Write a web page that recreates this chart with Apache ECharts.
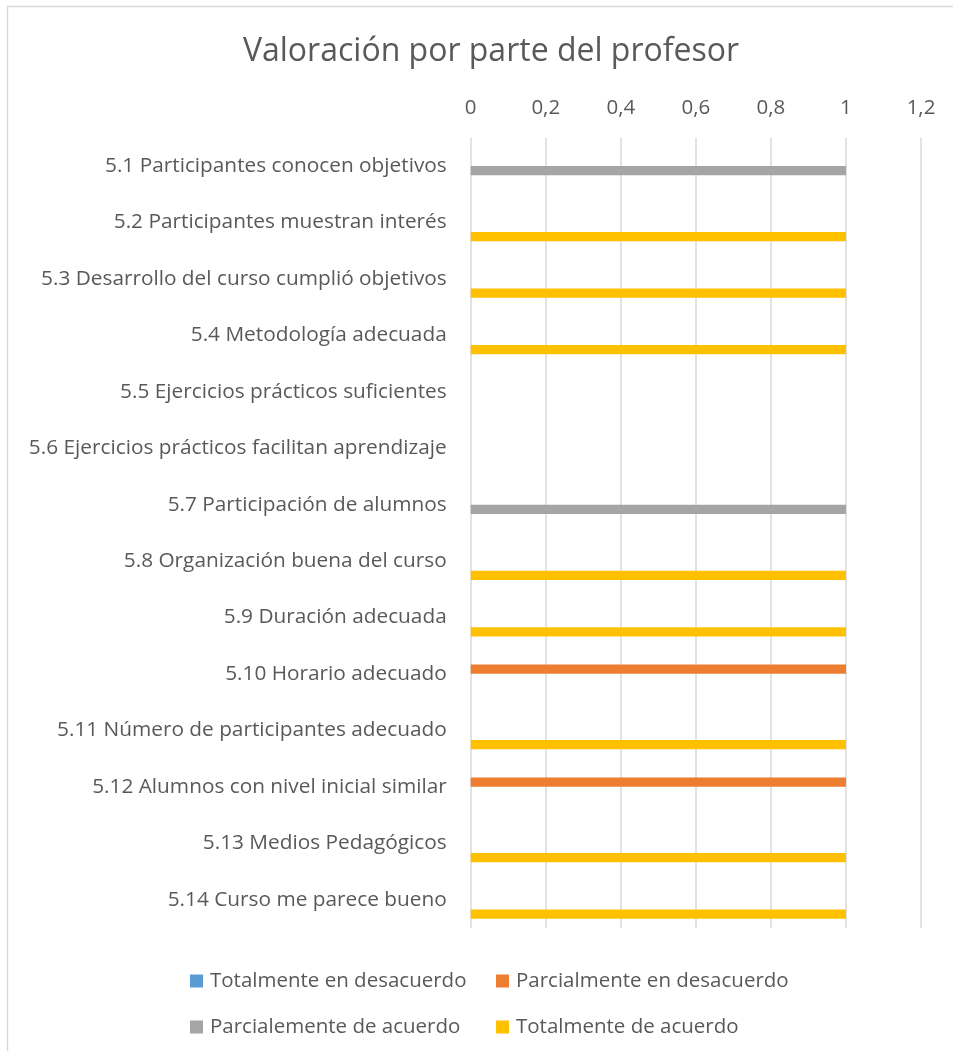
<!DOCTYPE html>
<html>
<head>
<meta charset="utf-8">
<script src="https://cdn.jsdelivr.net/npm/echarts@6/dist/echarts.min.js"></script>
<style>html,body{margin:0;padding:0;background:#fff;}#chart{width:953px;height:1051px;}</style>
</head>
<body>
<div id="chart"></div>
<script>
const categories = [
  '5.1 Participantes conocen objetivos',
  '5.2 Participantes muestran interés',
  '5.3 Desarrollo del curso cumplió objetivos',
  '5.4 Metodología adecuada',
  '5.5 Ejercicios prácticos suficientes',
  '5.6 Ejercicios prácticos facilitan aprendizaje',
  '5.7 Participación de alumnos',
  '5.8 Organización buena del curso',
  '5.9 Duración adecuada',
  '5.10 Horario adecuado',
  '5.11 Número de participantes adecuado',
  '5.12 Alumnos con nivel inicial similar',
  '5.13 Medios Pedagógicos',
  '5.14 Curso me parece bueno'
];
const seriesNames = ['Totalmente en desacuerdo', 'Parcialmente en desacuerdo', 'Parcialemente de acuerdo', 'Totalmente de acuerdo'];
const totalDesacuerdo   = [null, null, null, null, null, null, null, null, null, null, null, null, null, null];
const parcialDesacuerdo = [null, null, null, null, null, null, null, null, null, 1, null, 1, null, null];
const parcialAcuerdo    = [1, null, null, null, null, null, 1, null, null, null, null, null, null, null];
const totalAcuerdo      = [null, 1, 1, 1, null, null, null, 1, 1, null, 1, null, 1, 1];
const xTicks = { min: 0, max: 1.2, interval: 0.2 };

const colors = ['#5B9BD5', '#ED7D31', '#A5A5A5', '#FFC000'];
const FONT = 'Open Sans';
const TXT = '#595959';

const chart = echarts.init(document.getElementById('chart'));
const seriesData = [totalDesacuerdo, parcialDesacuerdo, parcialAcuerdo, totalAcuerdo];

const legendPos = [[190, 970], [496, 970], [190, 1016], [496, 1016]];

chart.setOption({
  animation: false,
  color: colors,
  title: {
    text: 'Valoración por parte del profesor',
    left: 486, top: 31, textAlign: 'center',
    textStyle: { fontFamily: FONT, fontSize: 32, fontWeight: 'normal', color: TXT }
  },
  graphic: [{
    type: 'rect', silent: true,
    shape: { x: 7.5, y: 6.5, width: 1000, height: 1100 },
    style: { fill: 'none', stroke: '#d9d9d9', lineWidth: 1.5 }
  }],
  legend: seriesNames.map((n, i) => ({
    data: [n], left: legendPos[i][0], top: legendPos[i][1],
    icon: 'rect', itemWidth: 13, itemHeight: 13, padding: 0, itemGap: 0,
    textStyle: { fontFamily: FONT, fontSize: 20.5, color: TXT, lineHeight: 22, padding: [0, 0, 0, 2] },
    selectedMode: false
  })),
  grid: { left: 470.7, right: 32, top: 137.7, bottom: 123, containLabel: false },
  xAxis: {
    type: 'value', position: 'top',
    min: xTicks.min, max: xTicks.max, interval: xTicks.interval,
    axisLine: { show: false }, axisTick: { show: false },
    splitLine: { show: true, lineStyle: { color: '#d9d9d9', width: 1.5 } },
    axisLabel: {
      margin: 19, fontFamily: FONT, fontSize: 20.5, color: TXT,
      formatter: v => String(Number(v.toFixed(1))).replace('.', ',')
    }
  },
  yAxis: {
    type: 'category', inverse: true, data: categories,
    axisLine: { show: false }, axisTick: { show: false },
    axisLabel: { margin: 24, fontFamily: FONT, fontSize: 20.8, color: TXT, padding: [4, 0, 0, 0] }
  },
  series: seriesNames.map((n, i) => ({
    name: n, type: 'bar', data: seriesData[i],
    barCategoryGap: '33%', barGap: '3%'
  }))
});
</script>
</body>
</html>
